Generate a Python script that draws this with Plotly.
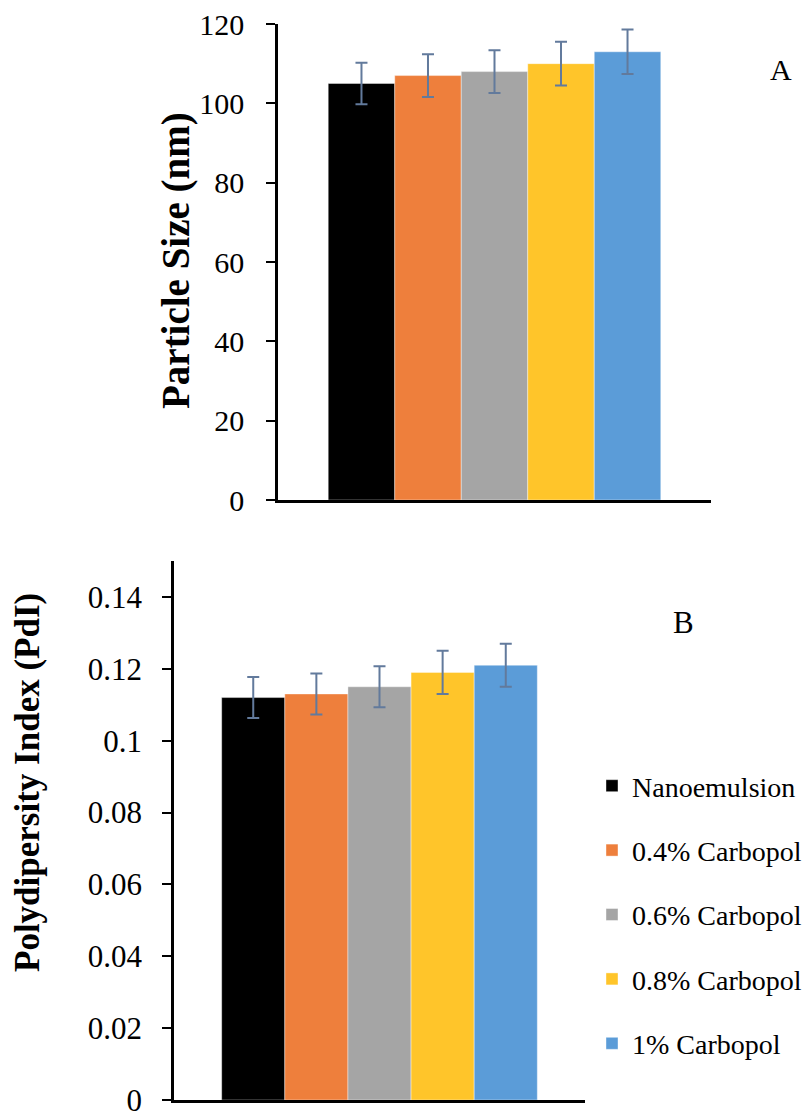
import plotly.graph_objects as go

series = ["Nanoemulsion", "0.4% Carbopol", "0.6% Carbopol", "0.8% Carbopol", "1% Carbopol"]
colors = ["#000000", "#EE7F3C", "#A5A5A5", "#FFC52A", "#5B9CD8"]

size_values = [105.0, 107.0, 108.0, 110.0, 113.0]
size_errors = [5.2, 5.4, 5.4, 5.5, 5.6]

pdi_values = [0.112, 0.113, 0.115, 0.119, 0.121]
pdi_errors = [0.0057, 0.0057, 0.0057, 0.006, 0.006]

size_ticks = [0, 20, 40, 60, 80, 100, 120]
pdi_ticks = [0, 0.02, 0.04, 0.06, 0.08, 0.1, 0.12, 0.14]
pdi_ticktext = ["0", "0.02", "0.04", "0.06", "0.08", "0.1", "0.12", "0.14"]

W, H = 811, 1115
FONT = "Liberation Serif, Times New Roman, serif"
ERR_COLOR = "#627A9C"

fig = go.Figure()

for i, name in enumerate(series):
    fig.add_trace(go.Bar(
        x=[""], y=[size_values[i]], name=name,
        marker=dict(color=colors[i], line=dict(color="rgba(255,255,255,0.5)", width=0.8)),
        error_y=dict(type="data", array=[size_errors[i]], color=ERR_COLOR, thickness=2, width=6),
        xaxis="x", yaxis="y", showlegend=False, legendgroup=name,
    ))
for i, name in enumerate(series):
    fig.add_trace(go.Bar(
        x=[""], y=[pdi_values[i]], name=name,
        marker=dict(color=colors[i], line=dict(color="rgba(255,255,255,0.5)", width=0.8)),
        error_y=dict(type="data", array=[pdi_errors[i]], color=ERR_COLOR, thickness=2, width=6),
        xaxis="x2", yaxis="y2", showlegend=True, legendgroup=name,
    ))

def px_x(p):
    return p / W

def px_y(p):
    return 1 - p / H

axis_common = dict(showline=True, linecolor="black", linewidth=2.5, showgrid=False,
                   zeroline=False, automargin=False)

fig.update_layout(
    width=W, height=H,
    margin=dict(l=0, r=0, t=0, b=0),
    paper_bgcolor="white", plot_bgcolor="white",
    barmode="group", bargap=0.232, bargroupgap=0,
    font=dict(family=FONT, color="black"),
    xaxis=dict(domain=[px_x(278), px_x(711)], anchor="y", showticklabels=False,
               ticks="", **axis_common),
    yaxis=dict(domain=[px_y(500), px_y(24)], anchor="x", range=[0, 120],
               tickvals=size_ticks, ticks="outside", ticklen=9, tickwidth=2,
               tickcolor="black", tickfont=dict(size=30, family=FONT),
               ticklabelstandoff=16, ticklabeloverflow="allow", **axis_common),
    xaxis2=dict(domain=[px_x(174), px_x(585)], anchor="y2", showticklabels=False,
                ticks="", **axis_common),
    yaxis2=dict(domain=[px_y(1100), px_y(561)], anchor="x2", range=[0, 0.15],
                tickvals=pdi_ticks, ticktext=pdi_ticktext, ticks="outside", ticklen=9,
                tickwidth=2, tickcolor="black", tickfont=dict(size=31, family=FONT),
                ticklabelstandoff=14, ticklabeloverflow="allow", **axis_common),
    legend=dict(x=px_x(592), y=px_y(761), xanchor="left", yanchor="top",
                font=dict(size=28, family=FONT), tracegroupgap=25,
                bgcolor="rgba(0,0,0,0)", traceorder="grouped"),
    showlegend=True,
    annotations=[
        dict(text="<b>Particle Size (nm)</b>", textangle=-90, x=px_x(176), y=px_y(261),
             xref="paper", yref="paper", showarrow=False, xanchor="center", yanchor="middle",
             font=dict(size=39, family=FONT)),
        dict(text="<b>Polydipersity Index (PdI)</b>", textangle=-90, x=px_x(27), y=px_y(783),
             xref="paper", yref="paper", showarrow=False, xanchor="center", yanchor="middle",
             font=dict(size=35, family=FONT)),
        dict(text="A", x=px_x(781), y=px_y(70), xref="paper", yref="paper", showarrow=False,
             xanchor="center", yanchor="middle", font=dict(size=30, family=FONT)),
        dict(text="B", x=px_x(683), y=px_y(622), xref="paper", yref="paper", showarrow=False,
             xanchor="center", yanchor="middle", font=dict(size=31, family=FONT)),
    ],
)

fig.write_html("out.html", config={"displayModeBar": False},
               post_script="document.body.style.margin='0';document.body.style.overflow='hidden';")
